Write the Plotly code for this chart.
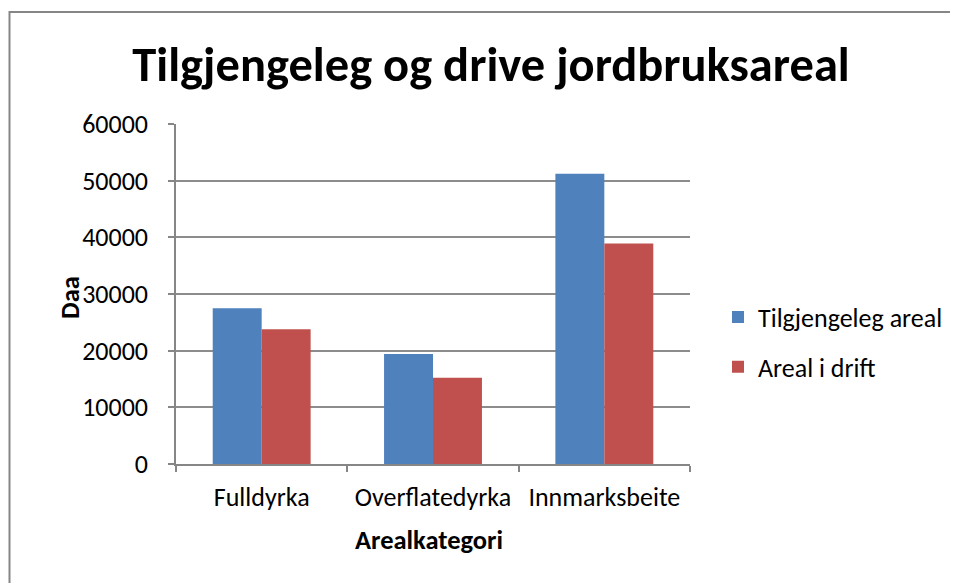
import plotly.graph_objects as go

categories = ["Fulldyrka", "Overflatedyrka", "Innmarksbeite"]
tilgjengeleg = [27500, 19400, 51200]
i_drift = [23800, 15200, 38900]
series_names = ["Tilgjengeleg areal", "Areal i drift"]
title_text = "Tilgjengeleg og drive jordbruksareal"
y_title = "Daa"
x_title = "Arealkategori"

FONT = "Carlito, Open Sans, sans-serif"
OFF = 8  # page body offset
W, H = 958, 583
L, T = 176 - OFF, 124 - OFF
pw, ph = 514, 340
R, B = W - L - pw, H - T - ph

def px(xp):  # page x -> paper x
    return (xp - 176) / pw

def py(yp):  # page y -> paper y
    return (464 - yp) / ph

fig = go.Figure()
fig.add_trace(go.Bar(x=categories, y=tilgjengeleg, name=series_names[0],
                     marker=dict(color="#4F81BD", line=dict(width=0)),
                     legendgroup="a"))
fig.add_trace(go.Bar(x=categories, y=i_drift, name=series_names[1],
                     marker=dict(color="#C0504D", line=dict(width=0)),
                     legendgroup="b"))

# outer chart border (left and top visible)
fig.add_shape(type="rect", xref="paper", yref="paper",
              x0=px(OFF + 1.5), x1=px(W + 30),
              y0=py(H + 30), y1=py(12),
              line=dict(color="#868686", width=2), fillcolor="rgba(0,0,0,0)",
              layer="below")

fig.add_annotation(text="<b>" + y_title + "</b>", xref="paper", yref="paper",
                   x=px(70), y=py(298), xanchor="center", yanchor="middle",
                   textangle=-90, showarrow=False,
                   font=dict(size=26.5, family=FONT, color="#000000"))
fig.add_annotation(text="<b>" + x_title + "</b>", xref="paper", yref="paper",
                   x=px(429), y=py(540), xanchor="center", yanchor="middle",
                   showarrow=False,
                   font=dict(size=26.5, family=FONT, color="#000000"))

fig.update_layout(
    width=W, height=H,
    margin=dict(l=L, r=R, t=T, b=B, autoexpand=False),
    paper_bgcolor="white", plot_bgcolor="white",
    font=dict(family=FONT, size=26, color="#000000"),
    title=dict(text="<b>" + title_text + "</b>", x=(491 - OFF) / W, xanchor="center",
               y=1 - (64 - OFF) / H, yanchor="middle", yref="container",
               font=dict(size=48.5, family=FONT, color="#000000")),
    barmode="group", bargap=0.4286, bargroupgap=0,
    showlegend=True,
    legend=dict(x=px(718), xanchor="left", y=py(342), yanchor="middle",
                font=dict(size=26, family=FONT), tracegroupgap=13,
                bgcolor="rgba(0,0,0,0)"),
    xaxis=dict(
        showline=True, linecolor="#868686", linewidth=1.5,
        ticks="outside", tickson="boundaries", ticklen=6, tickcolor="#868686", tickwidth=1.5,
        tickfont=dict(size=26, family=FONT), ticklabelstandoff=9,
        showgrid=False,
    ),
    yaxis=dict(
        range=[0, 60000], dtick=10000, tickformat="d",
        showline=True, linecolor="#868686", linewidth=1.5,
        ticks="outside", ticklen=6, tickcolor="#868686", tickwidth=1.5,
        showgrid=True, gridcolor="#8c8c8c", gridwidth=1.5,
        zeroline=False,
        tickfont=dict(size=26, family=FONT), ticklabelstandoff=15,
    ),
)

fig.write_html("out.html")
